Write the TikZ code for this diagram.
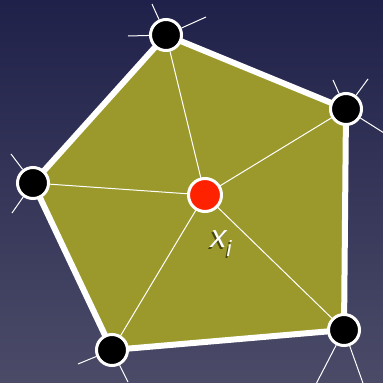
\documentclass[tikz,border=0pt]{standalone}
\usepackage{fontspec}
\setmainfont{Liberation Sans}
\definecolor{bgtop}{HTML}{20214A}
\definecolor{bgbot}{HTML}{4B4B68}
\definecolor{olive}{HTML}{9B992C}
\definecolor{redpt}{HTML}{FF2200}
\tikzset{
  vert/.style={circle, fill=black, draw=white, line width=3pt, minimum size=31pt, inner sep=0pt},
  centre/.style={circle, fill=redpt, draw=white, line width=3pt, minimum size=33pt, inner sep=0pt},
  spoke/.style={draw=white, line width=1pt},
  stub/.style={draw=white, line width=1pt},
  border/.style={draw=white, line width=6pt, line join=miter},
  lbl/.style={text=white, font=\fontsize{32}{32}\selectfont\itshape, inner sep=0pt}
}
\begin{document}
\begin{tikzpicture}[x=1pt,y=-1pt]
\shade[top color=bgtop, bottom color=bgbot] (0,0) rectangle (383,383);
\useasboundingbox (0,0) rectangle (383,383);
\begin{scope}
\clip (0,0) rectangle (383,383);
\coordinate (pA) at (166,35);
\coordinate (pB) at (346,109);
\coordinate (pC) at (344,330);
\coordinate (pD) at (112,350);
\coordinate (pE) at (33,183);
\coordinate (pX) at (205,195);
% stub ends
\coordinate (a1) at (152,4);
\coordinate (a2) at (128,36);
\coordinate (a3) at (206,17);
\coordinate (b1) at (333,80);
\coordinate (b2) at (368,79);
\coordinate (b3) at (392,138);
\coordinate (c1) at (315,386);
\coordinate (c2) at (364,386);
\coordinate (d1) at (78,364);
\coordinate (d2) at (128,382);
\coordinate (e1) at (11,154);
\coordinate (e2) at (12,213);
\fill[olive] (pA) -- (pB) -- (pC) -- (pD) -- (pE) -- cycle;
\foreach \p in {pA,pB,pC,pD,pE} \draw[spoke] (pX) -- (\p);
\draw[border] (pA) -- (pB) -- (pC) -- (pD) -- (pE) -- cycle;
\node[vert] (A) at (pA) {};
\node[vert] (B) at (pB) {};
\node[vert] (C) at (pC) {};
\node[vert] (D) at (pD) {};
\node[vert] (E) at (pE) {};
\node[centre] (X) at (pX) {};
\draw[stub] (A) -- (a1); \draw[stub] (A) -- (a2); \draw[stub] (A) -- (a3);
\draw[stub] (B) -- (b1); \draw[stub] (B) -- (b2); \draw[stub] (B) -- (b3);
\draw[stub] (C) -- (c1); \draw[stub] (C) -- (c2);
\draw[stub] (D) -- (d1); \draw[stub] (D) -- (d2);
\draw[stub] (E) -- (e1); \draw[stub] (E) -- (e2);
\node[lbl, text=black, opacity=0.55] at (219.5,245.5) {x\raisebox{-0.28em}{\fontsize{22}{22}\selectfont i}};
\node[lbl] (L) at (221,244) {x\raisebox{-0.28em}{\fontsize{22}{22}\selectfont i}};
\end{scope}
\end{tikzpicture}
\end{document}
